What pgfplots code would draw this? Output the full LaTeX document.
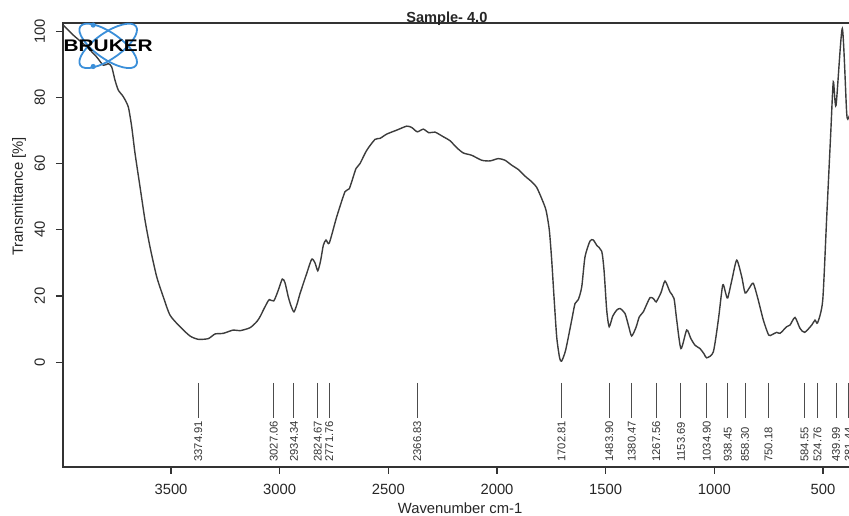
\documentclass[border=0pt]{standalone}
\usepackage{fontspec}
\setmainfont{Liberation Sans}
\usepackage{pgfplots}
\usepackage{pgfplotstable}
\pgfplotsset{compat=1.18}

\definecolor{trace}{HTML}{3C3C3C}
\definecolor{frame}{HTML}{333333}
\definecolor{brukerblue}{HTML}{3B8FD9}

% FTIR spectrum: wavenumber (cm-1) vs transmittance (%)
\pgfplotstableread{
wn      T
3995.6  101.8
3949.5  98.8
3887.9  95.3
3841.9  92.2
3811.5  89.7
3788.5  90.2
3772.9  89.2
3757.7  85.2
3742.5  82.2
3719.5  80.2
3696.5  77.1
3680.8  71.1
3665.6  63.1
3642.6  53.0
3619.6  42.9
3596.6  34.8
3565.8  25.8
3535.4  19.7
3504.6  14.2
3458.6  10.7
3412.6  7.9
3374.9  6.9
3328.4  7.1
3297.5  8.5
3259.4  8.7
3213.3  9.7
3182.5  9.5
3136.5  10.4
3105.7  12.2
3090.5  13.7
3075.3  15.7
3059.7  17.7
3047.7  18.9
3027.1  18.5
3007.7  21.5
2987.9  25.1
2975.5  24.0
2960.3  19.7
2947.8  17.0
2934.3  15.2
2920.2  17.5
2906.4  20.7
2875.6  26.8
2852.6  31.1
2837.4  30.0
2824.7  27.6
2812.1  30.5
2799.2  35.3
2786.8  36.9
2771.8  36.0
2737.6  43.9
2699.4  51.5
2679.6  52.4
2648.8  58.5
2630.4  60.0
2599.5  64.0
2561.3  67.3
2538.3  67.6
2507.5  68.9
2461.5  70.1
2415.5  71.3
2392.5  70.9
2366.8  69.6
2339.1  70.4
2312.9  69.3
2285.3  69.5
2247.1  68.1
2216.2  66.9
2185.4  64.8
2155.0  63.2
2116.4  62.5
2070.4  61.0
2032.2  60.8
1994.0  61.5
1963.2  61.0
1932.3  59.5
1902.0  58.2
1871.1  56.2
1840.3  54.5
1817.3  52.8
1794.3  49.4
1774.5  45.9
1759.3  39.9
1748.3  30.8
1737.7  19.7
1725.3  7.6
1712.0  1.3
1702.8  0.3
1684.3  3.6
1656.3  12.7
1641.1  17.7
1625.9  18.9
1610.2  22.7
1595.1  31.8
1572.1  36.6
1556.9  36.9
1541.2  35.3
1518.2  33.5
1507.6  27.8
1495.2  15.7
1483.9  10.7
1467.6  13.9
1449.2  15.7
1434.0  16.2
1411.0  14.7
1394.9  11.0
1380.5  7.9
1360.4  10.5
1345.2  13.7
1326.8  15.2
1296.0  19.5
1277.6  19.0
1267.6  18.2
1245.4  21.0
1227.0  24.5
1204.0  21.2
1185.5  19.2
1173.1  12.7
1153.7  4.1
1127.1  9.7
1108.7  7.2
1088.9  5.1
1065.9  4.1
1047.5  2.5
1034.9  1.3
1004.7  3.1
981.7   12.7
961.5   23.3
948.6   21.0
938.5   19.4
918.7   25.0
897.0   30.8
874.0   25.8
858.3   20.9
838.2   22.5
820.7   23.8
797.7   18.7
774.6   12.7
750.2   8.2
734.6   8.3
713.0   9.0
697.8   8.7
667.0   10.7
651.8   11.2
628.8   13.5
605.8   10.2
584.6   9.0
551.9   11.2
536.8   12.7
524.8   11.9
501.3   18.7
482.9   43.9
464.5   69.1
452.6   84.7
440.0   77.6
411.2   100.8
390.9   75.1
381.4   74.0
370.0   76.0
355.0   78.0
}\spectrum

% Picked peak positions: tick top and label baseline
\pgfplotstableread{
wn       ytop  ylab   lab
3374.91  -6.3  -30.2  3374.91
3027.06  -6.3  -30.2  3027.06
2934.34  -6.3  -30.2  2934.34
2824.67  -6.3  -30.2  2824.67
2771.76  -6.3  -30.2  2771.76
2366.83  -6.3  -30.2  2366.83
1702.81  -6.3  -30.2  1702.81
1483.90  -6.3  -30.2  1483.90
1380.47  -6.3  -30.2  1380.47
1267.56  -6.3  -30.2  1267.56
1153.69  -6.3  -30.2  1153.69
1034.90  -6.3  -30.2  1034.90
938.45   -6.3  -30.2  938.45
858.30   -6.3  -30.2  858.30
750.18   -6.3  -30.2  750.18
584.55   -6.3  -30.2  584.55
524.76   -6.3  -30.2  524.76
439.99   -6.3  -30.2  439.99
381.44   -6.3  -30.2  381.44
}\peaks

\begin{document}
\begin{tikzpicture}
\begin{axis}[
  at={(0,0)}, anchor=south west,
  scale only axis,
  width=396.3pt, height=221.9pt,
  x dir=reverse,
  xmin=350, xmax=3997,
  ymin=-31.6, ymax=102.5,
  axis line style={frame, line width=0.8pt},
  tick style={frame, line width=0.6pt},
  tick align=outside,
  major tick length=3.5pt,
  xtick pos=lower, ytick pos=left,
  xtick={500,1000,1500,2000,2500,3000,3500},
  ytick={0,20,40,60,80,100},
  /pgf/number format/assume math mode=true,
  /pgf/number format/1000 sep={},
  ticklabel style={font=\fontsize{7.4}{8}\selectfont, text=black!85},
  xticklabel style={anchor=north, yshift=-1.5pt},
  yticklabel style={rotate=90, anchor=south, yshift=2pt},
  xlabel={Wavenumber cm-1},
  ylabel={Transmittance [\%]},
  label style={font=\fontsize{7.4}{8}\selectfont, text=black!85},
  xlabel style={at={(axis description cs:0.501,0)}, anchor=north, yshift=-14.5pt},
  ylabel style={at={(axis description cs:0,0.6092)}, anchor=south, yshift=15pt},
  title={\textbf{Sample- 4.0}},
  title style={at={(axis description cs:0.4843,1)}, anchor=base, yshift=-5.8pt,
               font=\fontsize{7.3}{8}\selectfont, text=black!85},
  clip mode=individual,
]
  % spectrum trace
  \addplot[trace, line width=0.7pt, smooth, tension=0.4] table[x=wn, y=T] {\spectrum};

  % peak ticks drawn as one-sided bars hanging from ytop
  \addplot[draw=none, mark=none, forget plot,
    error bars/.cd, y dir=minus, y explicit, error mark=none,
    error bar style={black!70, line width=0.5pt}]
    table[x=wn, y=ytop, y error expr=10.6] {\peaks};

  % peak wavenumber labels
  \addplot[draw=none, mark=none, forget plot,
    nodes near coords, point meta=explicit symbolic,
    every node near coord/.append style={rotate=90, anchor=west, inner sep=0pt,
      font=\fontsize{5.6}{6}\selectfont, text=black!80}]
    table[x=wn, y=ylab, meta=lab] {\peaks};
\end{axis}

% instrument logo in the upper-left corner
\begin{scope}[shift={(22.6pt,210.4pt)}]
  \draw[brukerblue, line width=0.9pt, rotate=35] (0,0) ellipse (17pt and 6.5pt);
  \draw[brukerblue, line width=0.9pt, rotate=-35] (0,0) ellipse (17pt and 6.5pt);
  \fill[brukerblue] (-7.5pt,10.4pt) circle (1.3pt);
  \fill[brukerblue] (-7.5pt,-10.3pt) circle (1.3pt);
  \node[inner sep=0pt, xscale=1.24, font=\fontsize{8.4}{9}\selectfont\bfseries] at (0,-0.2pt) {BRUKER};
\end{scope}

\pgfresetboundingbox
\useasboundingbox (-31.5pt,-24.15pt) rectangle (393pt,233.35pt);
\end{tikzpicture}
\end{document}
